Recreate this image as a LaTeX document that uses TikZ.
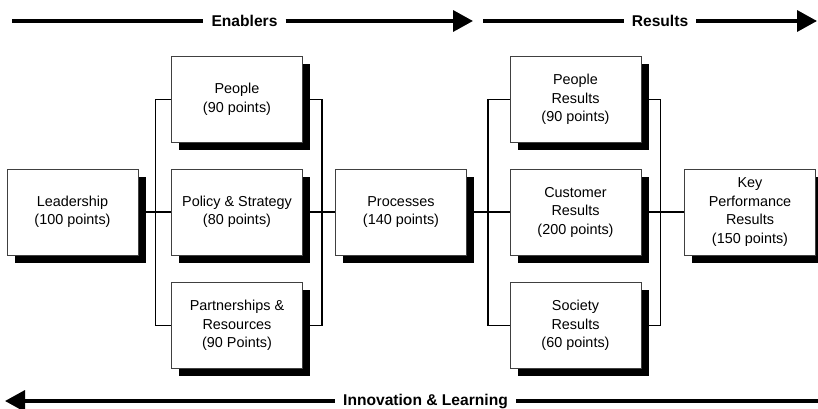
\documentclass[tikz,border=0pt]{standalone}
\usepackage{fontspec}
\setmainfont{Liberation Sans}
\usetikzlibrary{arrows.meta,shadows}
\pgfdeclarelayer{background}
\pgfsetlayers{background,main}
\begin{document}
\begin{tikzpicture}[x=1pt,y=-1pt,
  box/.style={draw=black!75, line width=0.8pt, fill=white, minimum width=131pt, minimum height=86pt,
    align=center, font=\fontsize{14.4}{18.5}\selectfont, inner sep=0pt,
    drop shadow={shadow xshift=7.5pt, shadow yshift=-7.5pt, fill=black, opacity=1}},
  conn/.style={line width=1.5pt, black, line join=miter},
  band/.style={line width=3.5pt},
  bandtip/.style={-{Triangle[length=20pt,width=21pt]}},
  lbl/.style={font=\fontsize{15.6}{18}\selectfont\bfseries, inner xsep=8pt, inner ysep=2pt}
]
\useasboundingbox (0,0) rectangle (818,409);

% boxes
\node[box] (lead) at (72.5,212) {Leadership\\(100 points)};
\node[box] (peo) at (237,99.5) {People\\(90 points)};
\node[box] (pol) at (237,212) {Policy \& Strategy\\(80 points)};
\node[box] (par) at (237,325.5) {Partnerships \&\\Resources\\(90 Points)};
\node[box] (proc) at (401,212) {Processes\\(140 points)};
\node[box] (pr) at (575.5,99.5) {People\\Results\\(90 points)};
\node[box] (cr) at (575.5,212) {Customer\\Results\\(200 points)};
\node[box] (sr) at (575.5,325.5) {Society\\Results\\(60 points)};
\node[box] (kpr) at (750,212) {Key\\Performance\\Results\\(150 points)};

% bus coordinates
\coordinate (b1) at (155.5,212);
\coordinate (b2) at (322,212);
\coordinate (b3) at (488,212);
\coordinate (b4) at (660.5,212);

\begin{pgfonlayer}{background}
\draw[conn] (lead) -- (pol);
\draw[conn] (peo.west) -- (peo.west -| b1) -- (par.west -| b1) -- (par.west);
\draw[conn] (peo.east) -- (peo.east -| b2) -- (par.east -| b2) -- (par.east);
\draw[conn] (pol) -- (proc);
\draw[conn] (proc) -- (cr);
\draw[conn] (pr.west) -- (pr.west -| b3) -- (sr.west -| b3) -- (sr.west);
\draw[conn] (pr.east) -- (pr.east -| b4) -- (sr.east -| b4) -- (sr.east);
\draw[conn] (cr) -- (kpr);
\end{pgfonlayer}

% top bands
\node[lbl] (en) at (244.5,21) {Enablers};
\coordinate (e0) at (12,21);
\coordinate (e1) at (473,21);
\draw[band] (e0) -- (en.west);
\draw[band,bandtip] (en.east) -- (e1);

\node[lbl] (res) at (660,21) {Results};
\coordinate (r0) at (483,21);
\coordinate (r1) at (817,21);
\draw[band] (r0) -- (res.west);
\draw[band,bandtip] (res.east) -- (r1);

% bottom band
\node[lbl] (inn) at (425.5,401) {Innovation \& Learning};
\coordinate (i0) at (5,401);
\coordinate (i1) at (818,401);
\draw[band,bandtip] (inn.west) -- (i0);
\draw[band] (inn.east) -- (i1);
\end{tikzpicture}
\end{document}
